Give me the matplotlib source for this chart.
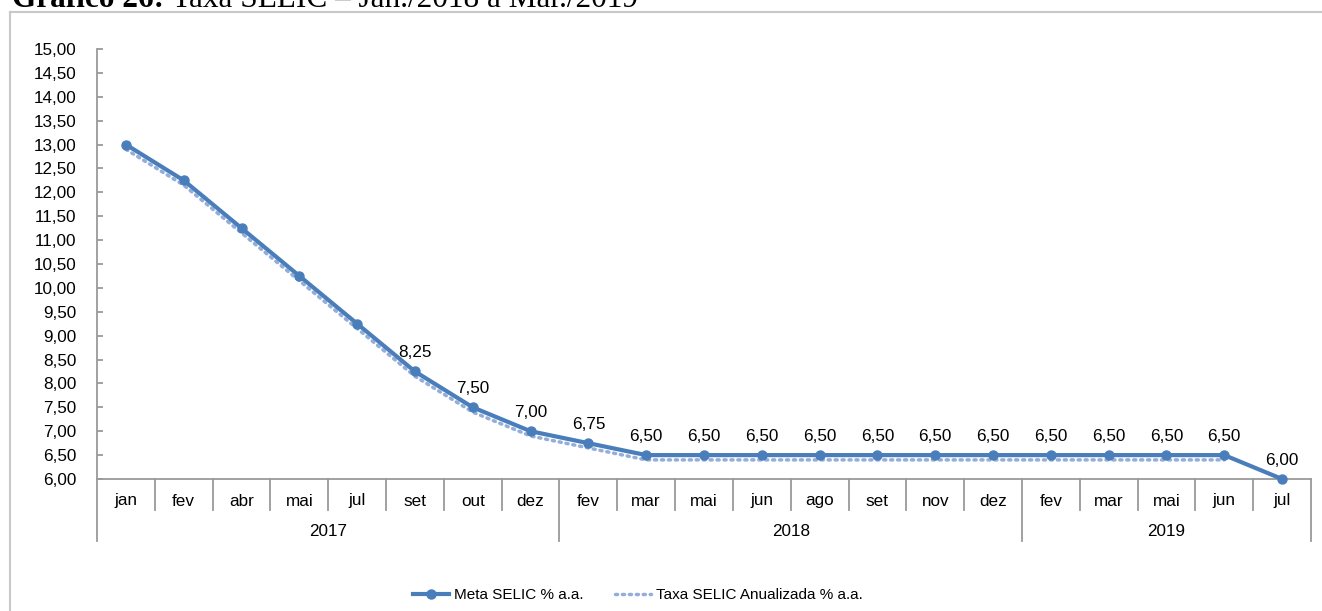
import matplotlib
matplotlib.use("Agg")
import matplotlib.pyplot as plt
from matplotlib.lines import Line2D

months = ["jan", "fev", "abr", "mai", "jul", "set", "out", "dez",
          "fev", "mar", "mai", "jun", "ago", "set", "nov", "dez",
          "fev", "mar", "mai", "jun", "jul"]
years = ["2017", "2018", "2019"]
months_per_year = [8, 8, 5]

meta_selic = [13.00, 12.25, 11.25, 10.25, 9.25, 8.25, 7.50, 7.00,
              6.75, 6.50, 6.50, 6.50, 6.50, 6.50, 6.50, 6.50,
              6.50, 6.50, 6.50, 6.50, 6.00]
taxa_selic = [12.90, 12.15, 11.15, 10.15, 9.15, 8.15, 7.40, 6.90,
              6.65, 6.40, 6.40, 6.40, 6.40, 6.40, 6.40, 6.40,
              6.40, 6.40, 6.40, 6.40]
first_labelled = 5

yticks = [6 + 0.5 * i for i in range(19)]

W, H = 1322, 611
plt.rcParams["font.family"] = ["Liberation Sans", "DejaVu Sans"]
fig = plt.figure(figsize=(W / 100, H / 100), dpi=100)

# outer frame (top and left edges)
fig.add_artist(Line2D([10 / W, 10 / W], [0, 1 - 12 / H], color="#c8c8c8", lw=1.5))
fig.add_artist(Line2D([10 / W, 1], [1 - 12 / H, 1 - 12 / H], color="#c8c8c8", lw=1.5))

# caption, partly cut off at the top edge
cap_bold = fig.text(12 / W, 1 - 7 / H, "Gráfico 26:", family="Liberation Serif",
                    fontweight="bold", fontsize=22.5, va="baseline", ha="left")
fig.canvas.draw()
bb = cap_bold.get_window_extent(fig.canvas.get_renderer())
fig.text((bb.x1 + 8) / W, 1 - 7 / H, "Taxa SELIC – Jan./2018 a Mar./2019",
         family="Liberation Serif", fontsize=22.5, va="baseline", ha="left")

left, right, top, bottom = 97, 1311, 49, 479
ax = fig.add_axes([left / W, 1 - bottom / H, (right - left) / W, (bottom - top) / H])
n = len(months)
ax.set_xlim(-0.5, n - 0.5)
ax.set_ylim(6, 15)

axis_color = "#9a9a9a"
for s in ["top", "right"]:
    ax.spines[s].set_visible(False)
for s in ["left", "bottom"]:
    ax.spines[s].set_color(axis_color)
    ax.spines[s].set_linewidth(1.3)

fs = 12.3
ax.set_yticks(yticks)
ax.set_yticklabels([f"{v:.2f}".replace(".", ",") for v in yticks], fontsize=fs)
ax.tick_params(axis="y", direction="in", length=4, color=axis_color, width=1.3, pad=15)
ax.set_xticks([])

line_color = "#4a7ebb"
dot_color = "#93aedb"
xs = list(range(n))
ax.plot(xs[:len(taxa_selic)], taxa_selic, color=dot_color, lw=2.5,
        linestyle=(0, (0.6, 1.4)), dash_capstyle="round", zorder=2, clip_on=False)
ax.plot(xs, meta_selic, color=line_color, lw=3, marker="o", markersize=6.5,
        zorder=3, clip_on=False)

for i in range(first_labelled, n):
    ax.annotate(f"{meta_selic[i]:.2f}".replace(".", ","), (xs[i], meta_selic[i]),
                xytext=(0, 8), textcoords="offset points", ha="center",
                va="bottom", fontsize=fs)

# category axis: month cells and year groups
trans = ax.get_xaxis_transform()
px = 1 / (bottom - top)
month_drop = 31 * px
year_drop = 62 * px
boundaries = [i - 0.5 for i in range(n + 1)]
year_edges = [-0.5]
for c in months_per_year:
    year_edges.append(year_edges[-1] + c)
for b in boundaries:
    drop = year_drop if b in year_edges else month_drop
    ax.plot([b, b], [0, -drop], transform=trans, color=axis_color, lw=1.3,
            clip_on=False)
for i, m in enumerate(months):
    ax.text(i, -22 * px, m, transform=trans, ha="center", va="center", fontsize=fs)
for k, y in enumerate(years):
    mid = (year_edges[k] + year_edges[k + 1]) / 2
    ax.text(mid, -52 * px, y, transform=trans, ha="center", va="center", fontsize=fs)

# legend
handles = [
    Line2D([], [], color=line_color, lw=3, marker="o", markersize=6.5),
    Line2D([], [], color=dot_color, lw=2.5, linestyle=(0, (0.6, 1.4)),
           dash_capstyle="round"),
]
fig.legend(handles, ["Meta SELIC % a.a.", "Taxa SELIC Anualizada % a.a."],
           loc="center", bbox_to_anchor=(638 / W, 1 - 595 / H), ncol=2, frameon=False,
           fontsize=11, handlelength=2.35, handletextpad=0.3, columnspacing=2.1)

fig.savefig("out.png", dpi=100)
